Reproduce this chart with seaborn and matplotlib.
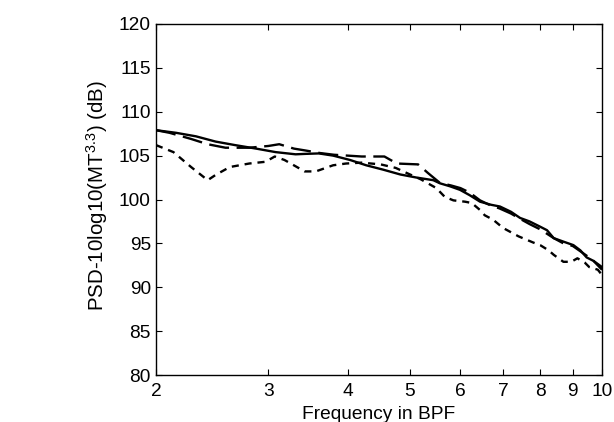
import numpy as np
import pandas as pd
import matplotlib
matplotlib.use("Agg")
import matplotlib.pyplot as plt
import seaborn as sns
from matplotlib.ticker import FixedLocator, NullLocator, FixedFormatter

# ---- data ----
solid_f = [2.0, 2.15, 2.31, 2.48, 2.66, 2.87, 3.08, 3.31, 3.43, 3.6, 3.79, 4.03, 4.27,
           4.54, 4.83, 5.12, 5.44, 5.57, 5.78, 5.99, 6.2, 6.44, 6.7, 6.92, 7.2, 7.44,
           7.7, 8.0, 8.2, 8.4, 8.7, 9.02, 9.25, 9.46, 9.7, 10.0]
solid_db = [107.9, 107.6, 107.2, 106.6, 106.2, 105.8, 105.4, 105.15, 105.2, 105.25, 105.0,
            104.5, 103.9, 103.4, 102.85, 102.5, 102.2, 101.85, 101.5, 101.1, 100.5, 99.75,
            99.4, 99.2, 98.6, 97.9, 97.5, 96.9, 96.5, 95.6, 95.2, 94.8, 94.2, 93.4, 93.0, 92.3]

dash_f = [2.0, 2.1, 2.27, 2.41, 2.57, 2.8, 3.0, 3.12, 3.29, 3.42, 3.61, 3.8, 4.2, 4.56,
          4.77, 5.15, 5.34, 5.57, 5.8, 6.0, 6.2, 6.44, 6.7, 6.9, 7.2, 7.44, 7.7, 8.0,
          8.4, 8.7, 9.0, 9.46, 9.7, 10.0]
dash_db = [107.9, 107.6, 106.9, 106.3, 105.9, 105.9, 106.1, 106.3, 105.8, 105.6, 105.3,
           105.1, 104.9, 104.9, 104.1, 104.0, 103.0, 101.9, 101.6, 101.3, 100.8, 99.9, 99.3,
           99.0, 98.4, 97.8, 97.2, 96.6, 95.6, 95.0, 94.7, 93.6, 93.0, 92.0]

short_f = [2.0, 2.13, 2.27, 2.41, 2.48, 2.61, 2.8, 2.97, 3.07, 3.18, 3.42, 3.56, 3.79,
           3.97, 4.2, 4.5, 4.75, 4.95, 5.2, 5.5, 5.67, 5.85, 6.1, 6.25, 6.44, 6.55, 6.75,
           7.0, 7.4, 7.8, 8.0, 8.25, 8.4, 8.7, 8.95, 9.15, 9.4, 9.55, 9.85, 10.0]
short_db = [106.2, 105.4, 103.7, 102.2, 102.8, 103.7, 104.1, 104.3, 104.9, 104.5, 103.2,
            103.2, 103.9, 104.1, 104.2, 104.0, 103.6, 103.0, 102.3, 101.3, 100.3, 99.9, 99.75,
            99.6, 98.8, 98.2, 97.7, 96.75, 95.8, 95.1, 94.8, 94.2, 93.7, 92.9, 92.9, 93.3,
            92.8, 92.3, 92.0, 91.4]

x_ticks = [2, 3, 4, 5, 6, 7, 8, 9, 10]
y_ticks = [80, 85, 90, 95, 100, 105, 110, 115, 120]

# ---- plot ----
sns.set_theme(style="white")
plt.rcParams['font.family'] = ['Liberation Sans', 'DejaVu Sans']
plt.rcParams['mathtext.fontset'] = 'custom'
plt.rcParams['mathtext.rm'] = 'Liberation Sans'
plt.rcParams['mathtext.it'] = 'Liberation Sans'

FS = 13.8
fig = plt.figure(figsize=(6.14, 4.22), dpi=100)
ax = fig.add_axes([156/614, 1 - 375/422, (602-156)/614, (375-24)/422])

lw = 1.7
sns.lineplot(x=solid_f, y=solid_db, ax=ax, color='black', lw=lw, sort=False, estimator=None)
sns.lineplot(x=dash_f, y=dash_db, ax=ax, color='black', lw=lw, sort=False, estimator=None)
sns.lineplot(x=short_f, y=short_db, ax=ax, color='black', lw=lw, sort=False, estimator=None)
ax.lines[1].set_dashes((8.5, 3.2))
ax.lines[2].set_dashes((3.0, 2.5))

ax.set_xscale('log')
ax.set_xlim(2, 10)
ax.set_ylim(80, 120)
ax.xaxis.set_major_locator(FixedLocator(x_ticks))
ax.xaxis.set_major_formatter(FixedFormatter([str(t) for t in x_ticks]))
ax.xaxis.set_minor_locator(NullLocator())
ax.set_yticks(y_ticks)
ax.set_yticklabels([str(t) for t in y_ticks])

for s in ax.spines.values():
    s.set_color('black')
    s.set_linewidth(1.0)
ax.tick_params(axis='both', which='major', direction='in', length=4, width=0.8,
               colors='black', labelsize=FS, top=True, right=True, bottom=True, left=True)
ax.tick_params(axis='x', pad=5.5)
ax.tick_params(axis='y', pad=3.7)

ax.set_xlabel('Frequency in BPF', fontsize=FS, color='black', labelpad=4.5)
ax.set_ylabel(r'PSD-10log10(MT$^{3.3}$) (dB)', fontsize=14.8, color='black')
ax.yaxis.set_label_coords(-0.103, 0.51)
ax.set_facecolor('white')
fig.patch.set_facecolor('white')

fig.savefig('out.png', dpi=100, facecolor='white')
